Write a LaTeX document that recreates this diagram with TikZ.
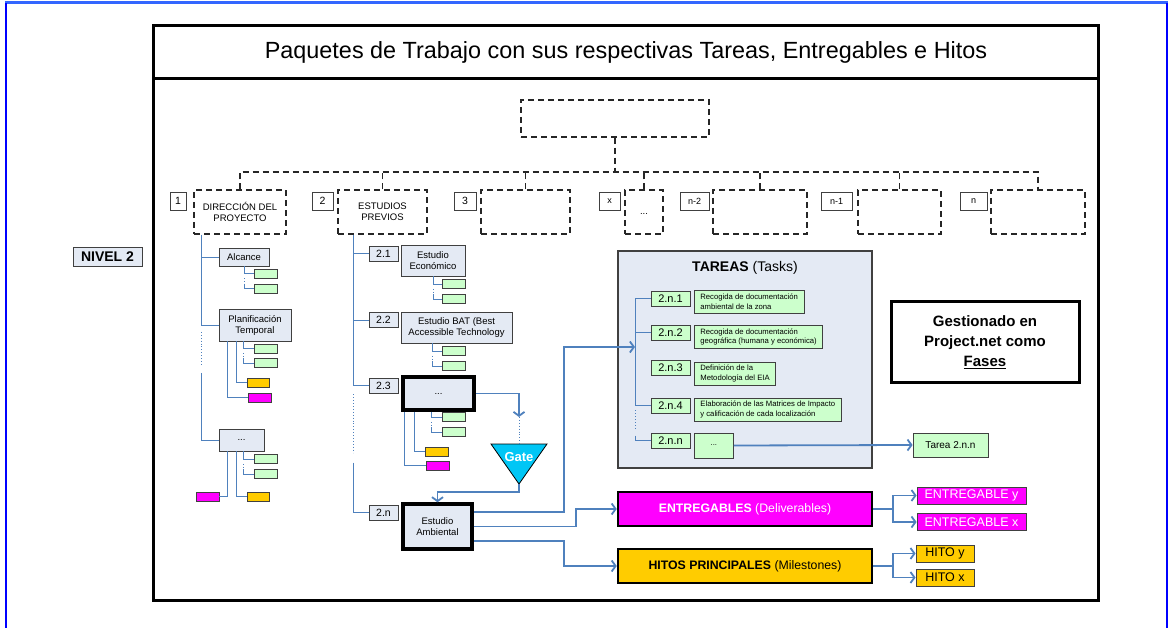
\documentclass[tikz,border=0pt]{standalone}
\usepackage{fontspec}
\setmainfont{Liberation Sans}
\usetikzlibrary{positioning, arrows.meta, calc}
\definecolor{fondbleu}{HTML}{E4EAF4}
\definecolor{trait}{HTML}{4F81BD}
\definecolor{vert}{HTML}{CCFFCC}
\definecolor{jaune}{HTML}{FFCC00}
\definecolor{rose}{HTML}{FF00FF}
\definecolor{cyangate}{HTML}{00C6F5}
\definecolor{gris}{HTML}{404040}
\definecolor{bleucadre}{HTML}{3366FF}

\begin{document}
\begin{tikzpicture}[x=1pt,y=-1pt,
  boite/.style={draw=gris,fill=fondbleu,line width=0.8pt,inner sep=1pt,align=center,font=\fontsize{9.5}{11}\selectfont},
  num/.style={boite,fill=white,inner sep=0pt,minimum height=18pt,font=\fontsize{10.5}{12}\selectfont},
  code/.style={boite,minimum width=29pt,minimum height=15pt,inner sep=0pt,font=\fontsize{10.5}{12}\selectfont},
  tiret/.style={draw=black!85,dash pattern=on 6pt off 4pt,line width=1.2pt},
  pointille/.style={tiret,align=center,font=\fontsize{9.5}{11}\selectfont,inner sep=0pt,minimum height=44pt},
  feuille/.style={draw=gris,line width=0.8pt,minimum width=23pt,minimum height=9pt,inner sep=0pt},
  branche/.style={draw=trait,line width=0.9pt},
  fleche/.style={draw=trait,line width=1.8pt,-{Straight Barb[length=4pt,width=11pt]}},
  epais/.style={boite,line width=3.5pt,draw=black},
  tache/.style={draw=gris,fill=vert,line width=0.8pt,inner sep=0pt,minimum width=39pt,minimum height=15pt,font=\fontsize{11}{13}\selectfont},
  desc/.style={draw=gris,fill=vert,line width=0.8pt,anchor=west,align=left,inner xsep=6pt,inner ysep=1pt,minimum height=23pt,font=\fontsize{7.7}{9.5}\selectfont},
  grand/.style={draw=black,line width=2.5pt,minimum width=254pt,minimum height=34pt,font=\fontsize{12.3}{14}\selectfont},
  petit/.style={draw=gris,line width=0.8pt,inner sep=0pt,minimum height=17pt,font=\fontsize{12.5}{14}\selectfont}]
\useasboundingbox (0,0) rectangle (1168,628);

%le cadre
\draw[bleucadre,line width=3pt] (5,3) -- (1168,3);
\draw[blue,line width=2.5pt] (6,3) -- (6,628);
\draw[blue,line width=2pt] (1167,3) -- (1167,628);
\draw[line width=3pt] (153,26) rectangle (1098,600);
\draw[line width=3pt] (153,79) -- (1098,79);
\node[font=\fontsize{23.4}{26}\selectfont] (titre) at (626,52) {Paquetes de Trabajo con sus respectivas Tareas, Entregables e Hitos};

\node[boite,font=\bfseries\fontsize{14}{16}\selectfont,minimum width=69pt,minimum height=19pt,inner sep=0pt] (niv) at (107.5,256.5) {NIVEL 2};

%les paquets
\node[pointille,minimum width=188pt,minimum height=37pt] (racine) at (615,118.5) {};
\node[pointille,minimum width=92pt] (d1) at (240,212) {DIRECCIÓN DEL\\PROYECTO};
\node[pointille,minimum width=89pt] (d2) at (382.5,212) {ESTUDIOS\\PREVIOS};
\node[pointille,minimum width=89pt] (d3) at (525.5,212) {};
\node[pointille,minimum width=38pt] (dx) at (644,212) {\raisebox{-6pt}{...}};
\node[pointille,minimum width=94pt] (dn2) at (760,212) {};
\node[pointille,minimum width=83pt] (dn1) at (899.5,212) {};
\node[pointille,minimum width=94pt] (dn) at (1038,212) {};

\coordinate (barre) at (615,172);
\draw[tiret] (racine.south) -- (barre);
\draw[tiret] (d1.north) |- (barre) -| (dn.north);
\foreach \d in {d2,d3,dx,dn2,dn1}
  \draw[tiret] (\d.north) -- (\d.north |- barre);

\foreach \nom/\x/\w/\t in {n1/178/16/1, n2/322.5/21/2, n3/465/22/3}
  \node[num,minimum width=\w pt] (\nom) at (\x,201) {\t};
\foreach \nom/\x/\w/\t in {nx/609.5/21/x, nn2/694.5/29/n-2, nn1/836.5/31/n-1, nn/973.5/27/n}
  \node[num,minimum width=\w pt,font=\fontsize{9}{11}\selectfont] (\nom) at (\x,201) {\t};

%colonne 1
\node[boite,minimum width=50pt,minimum height=18pt] (alc) at (244,257) {Alcance};
\node[boite,minimum width=72pt,minimum height=32pt] (plan) at (255,325) {Planificación\\Temporal};
\node[boite,minimum width=45pt,minimum height=22pt] (pt1) at (241.5,440) {...};

\node[feuille,fill=vert] (v1) at (265.5,273.5) {};
\node[feuille,fill=vert] (v2) at (265.5,288.5) {};
\node[feuille,fill=vert] (v3) at (265.5,348.5) {};
\node[feuille,fill=vert] (v4) at (265.5,363) {};
\node[feuille,fill=jaune,minimum width=22pt] (o1) at (258,382.5) {};
\node[feuille,fill=rose] (m1) at (259.5,397.5) {};
\node[feuille,fill=vert] (v5) at (265.5,459) {};
\node[feuille,fill=vert] (v6) at (265.5,474) {};
\node[feuille,fill=jaune,minimum width=22pt] (o2) at (258,496.5) {};
\node[feuille,fill=rose] (m2) at (207.5,496.5) {};

\coordinate (t1) at ([xshift=8pt]d1.south west);
\draw[branche] (t1) |- (plan.west);
\draw[branche] (alc.west) -- (alc.west -| t1);
\draw[branche,dotted] ($(plan.west -| t1)+(0,7)$) -- ($(plan.west -| t1)+(0,40)$);
\draw[branche] ($(plan.west -| t1)+(0,48)$) |- (pt1.west);

\draw[branche] (alc.south) |- (v1.west);
\draw[branche,dotted] (alc.south |- v1.south) -- (alc.south |- v2.north);
\draw[branche] (alc.south |- v2.north) |- (v2.west);

\coordinate (p1) at ([xshift=25pt]plan.south west);
\draw[branche] (p1) |- (v3.west);
\draw[branche,dotted] (p1 |- v3.south) -- (p1 |- v4.north);
\draw[branche] (p1 |- v4.north) |- (v4.west);
\draw[branche] ([xshift=18pt]plan.south west) |- (o1.west);
\draw[branche] ([xshift=9pt]plan.south west) |- (m1.west);

\coordinate (p2) at ([xshift=25pt]pt1.south west);
\draw[branche] (p2) |- (v5.west);
\draw[branche,dotted] (p2 |- v5.south) -- (p2 |- v6.north);
\draw[branche] (p2 |- v6.north) |- (v6.west);
\draw[branche] ([xshift=18pt]pt1.south west) |- (o2.west);
\draw[branche] ([xshift=9pt]pt1.south west) |- (m2.east);

%colonne 2
\node[code] (c21) at (383.5,253.5) {2.1};
\node[boite,minimum width=64pt,minimum height=31pt] (eco) at (433,260.5) {Estudio\\Económico};
\node[code] (c22) at (383.5,320) {2.2};
\node[boite,minimum width=111pt,minimum height=31pt] (bat) at (456.5,327.5) {Estudio BAT (Best\\Accessible Technology};
\node[code] (c23) at (383.5,385.5) {2.3};
\node[epais,minimum width=71pt,minimum height=33pt] (pt2) at (438.5,393.5) {...};
\node[code] (c2n) at (383.5,512.5) {2.n};
\node[epais,minimum width=69pt,minimum height=45pt] (amb) at (437.5,526.5) {Estudio\\Ambiental};

\node[feuille,fill=vert] (v7) at (453.5,284) {};
\node[feuille,fill=vert] (v8) at (453.5,299) {};
\node[feuille,fill=vert] (v9) at (453.5,351) {};
\node[feuille,fill=vert] (v10) at (453.5,366) {};
\node[feuille,fill=vert] (v11) at (453.5,417) {};
\node[feuille,fill=vert] (v12) at (453.5,432) {};
\node[feuille,fill=jaune] (o3) at (436.5,451.5) {};
\node[feuille,fill=rose] (m3) at (437.5,465.5) {};

\coordinate (t2) at ([xshift=16pt]d2.south west);
\draw[branche] (t2) |- (c23.west);
\draw[branche] (c21.west) -- (c21.west -| t2);
\draw[branche] (c22.west) -- (c22.west -| t2);
\draw[branche,dotted] ($(c23.west -| t2)+(0,9)$) -- ($(c23.west -| t2)+(0,67)$);
\draw[branche] ($(c23.west -| t2)+(0,77)$) |- (c2n.west);

\draw[branche] (eco.south) |- (v7.west);
\draw[branche,dotted] (eco.south |- v7.south) -- (eco.south |- v8.north);
\draw[branche] (eco.south |- v8.north) |- (v8.west);

\coordinate (p3) at ([xshift=32pt]bat.south west);
\draw[branche] (p3) |- (v9.west);
\draw[branche,dotted] (p3 |- v9.south) -- (p3 |- v10.north);
\draw[branche] (p3 |- v10.north) |- (v10.west);

\coordinate (p4) at ([xshift=30pt]pt2.south west);
\draw[branche] (p4) |- (v11.west);
\draw[branche,dotted] (p4 |- v11.south) -- (p4 |- v12.north);
\draw[branche] (p4 |- v12.north) |- (v12.west);
\draw[branche] ([xshift=13pt]pt2.south west) |- (o3.west);
\draw[branche] ([xshift=3pt]pt2.south west) |- (m3.west);

%la gate
\draw[fill=cyangate,line width=0.8pt] (491,444) -- (547,444) -- (519,484) -- cycle;
\node[text=white,font=\bfseries\fontsize{13}{15}\selectfont] (gate) at (519,457) {Gate};
\coordinate (gh) at (519,444);
\coordinate (gb) at (519,484);
\coordinate (ga) at (519,417);
\coordinate (gc) at (519,492);
\draw[fleche] (pt2.east) -| (ga);
\draw[branche,dotted,line width=1pt] (ga) -- (gh);
\draw[fleche] (gb) -- (gc) -| (amb.north);

%les taches
\node[draw=gris,fill=fondbleu,line width=1.5pt,minimum width=254pt,minimum height=217pt] (tareas) at (745,359.5) {};
\node[font=\fontsize{14}{16}\selectfont] (ttit) at (745,268) {\textbf{TAREAS} (Tasks)};
\foreach \nom/\y/\t in {k1/298.5/2.n.1, k2/332.5/2.n.2, k3/368/2.n.3, k4/405.5/2.n.4, kn/440.5/2.n.n}
  \node[tache] (\nom) at (670.5,\y) {\t};
\node[desc] (e1) at (694,301.5) {Recogida de documentación\\ambiental de la zona};
\node[desc] (e2) at (694,337) {Recogida de documentación\\geográfica (humana y económica)};
\node[desc] (e3) at (694,373.5) {Definición de la\\Metodología del EIA};
\node[desc] (e4) at (694,409.5) {Elaboración de las Matrices de Impacto\\y calificación de cada localización};
\node[desc,minimum width=39pt,minimum height=25pt] (en) at (694,445.5) {...};

\coordinate (tt) at (635,347);
\draw[branche] (k1.west -| tt) -- (k4.west -| tt);
\foreach \k in {k1,k2,k4}
  \draw[branche] (\k.west) -- (\k.west -| tt);
\draw[branche,dotted] ($(k4.west -| tt)+(0,5)$) -- ($(k4.west -| tt)+(0,25)$);
\draw[branche] ($(k4.west -| tt)+(0,30)$) |- (kn.west);

\node[tache,minimum width=75pt,minimum height=24pt,font=\fontsize{10}{12}\selectfont] (tn) at (950.5,445) {Tarea 2.n.n};
\draw[fleche] (en.east) -- (tn.west);

\node[draw=black,line width=3pt,minimum width=188pt,minimum height=81pt,align=center,font=\bfseries\fontsize{15}{20}\selectfont] (gest) at (985,342.5) {Gestionado en\\Project.net como\\\underline{Fases}};

%entregables et hitos
\node[grand,fill=rose,text=white] (ent) at (745,509) {\textbf{ENTREGABLES} (Deliverables)};
\node[grand,fill=jaune] (hit) at (745,566) {\textbf{HITOS PRINCIPALES} (Milestones)};
\node[petit,fill=rose,text=white,minimum width=109pt] (ey) at (971.5,495.5) {ENTREGABLE y};
\node[petit,fill=rose,text=white,minimum width=109pt] (ex) at (971.5,522) {ENTREGABLE x};
\node[petit,fill=jaune,minimum width=58pt] (hy) at (945,553.5) {HITO y};
\node[petit,fill=jaune,minimum width=58pt] (hx) at (945,577.5) {HITO x};

\coordinate (c1) at (564,347);
\coordinate (c2) at (576,509);
\coordinate (c3) at (564,566);
\draw[fleche] ($(amb.north east)!0.2!(amb.south east)$) -| (c1) -- (tt);
\draw[fleche] (amb.east) -| (c2) -- (ent.west);
\draw[fleche] ($(amb.north east)!0.8!(amb.south east)$) -| (c3) -- (hit.west);

\draw[fleche] (ent.east) -- ++(20,0) |- (ey.west);
\draw[fleche] (ent.east) -- ++(20,0) |- (ex.west);
\draw[fleche] (hit.east) -- ++(20,0) |- (hy.west);
\draw[fleche] (hit.east) -- ++(20,0) |- (hx.west);
\end{tikzpicture}
\end{document}
